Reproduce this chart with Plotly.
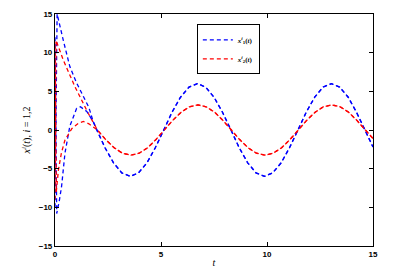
import plotly.graph_objects as go

# Early transient parts
t_blue1 = [0, 0.1, 0.4, 0.7, 1.0, 1.34, 1.6, 1.8]
y_blue1 = [-10, 15, 11.5, 8.2, 6.2, 4.3, 2.9, 1.1]
t_blue2 = [0, 0.08, 0.2, 0.31, 0.47, 0.7, 1.02, 1.2, 1.5, 1.8]
y_blue2 = [12, -10.8, -9.2, -7.3, -3.0, 0.5, 2.8, 3.0, 2.4, 1.1]
t_red1 = [0, 0.05, 0.39, 0.94, 1.57, 1.8]
y_red1 = [-9, 11.6, 9.05, 5.6, 2.15, 1.0]
t_red2 = [0, 0.06, 0.16, 0.3, 0.47, 0.8, 1.1, 1.34, 1.6, 1.8]
y_red2 = [11, -8, -5.2, -3.0, -1.3, 0.2, 0.85, 1.1, 0.8, 0.4]

# Shared steady-state tails
t_blue_tail = [1.97, 2.36, 2.76, 3.15, 3.55, 3.94, 4.34, 4.73, 5.13, 5.52, 5.92, 6.32,
               6.72, 7.11, 7.5, 7.9, 8.3, 8.69, 9.09, 9.48, 9.88, 10.27, 10.67, 11.06,
               11.46, 11.85, 12.25, 12.64, 13.04, 13.43, 13.83, 14.22, 14.62, 15.0]
y_blue_tail = [0, -2.3, -4.24, -5.54, -6, -5.54, -4.24, -2.3, 0, 2.3, 4.24, 5.54,
               6, 5.54, 4.24, 2.3, 0, -2.3, -4.24, -5.54, -6, -5.54, -4.24, -2.3,
               0, 2.3, 4.24, 5.54, 6, 5.54, 4.24, 2.3, 0, -2.2]
t_red_tail = [2.0, 2.39, 2.79, 3.18, 3.58, 3.97, 4.37, 4.76, 5.16, 5.55, 5.95, 6.34,
              6.74, 7.13, 7.53, 7.92, 8.32, 8.71, 9.11, 9.5, 9.9, 10.29, 10.69, 11.08,
              11.48, 11.87, 12.27, 12.66, 13.06, 13.45, 13.85, 14.24, 14.64, 15.0]
y_red_tail = [0, -1.24, -2.3, -3.0, -3.25, -3.0, -2.3, -1.24, 0, 1.24, 2.3, 3.0,
              3.25, 3.0, 2.3, 1.24, 0, -1.24, -2.3, -3.0, -3.25, -3.0, -2.3, -1.24,
              0, 1.24, 2.3, 3.0, 3.25, 3.0, 2.3, 1.24, 0, -1.1]

x_ticks = [0, 5, 10, 15]
y_ticks = [-15, -10, -5, 0, 5, 10, 15]

legend_names = ["<i>x</i><sup><i>i</i></sup><sub>1</sub>(<i>t</i>)",
                "<i>x</i><sup><i>i</i></sup><sub>2</sub>(<i>t</i>)"]

BLUE = "#0000ff"
RED = "#ff0000"
DASH = "4px,3px"

fig = go.Figure()
fig.add_trace(go.Scatter(x=t_blue1 + t_blue_tail, y=y_blue1 + y_blue_tail, mode="lines",
                         line=dict(color=BLUE, width=1.3, dash=DASH), name=legend_names[0]))
fig.add_trace(go.Scatter(x=t_red1 + t_red_tail, y=y_red1 + y_red_tail, mode="lines",
                         line=dict(color=RED, width=1.3, dash=DASH), name=legend_names[1]))
fig.add_trace(go.Scatter(x=t_blue2 + t_blue_tail, y=y_blue2 + y_blue_tail, mode="lines",
                         line=dict(color=BLUE, width=1.3, dash=DASH), showlegend=False))
fig.add_trace(go.Scatter(x=t_red2 + t_red_tail, y=y_red2 + y_red_tail, mode="lines",
                         line=dict(color=RED, width=1.3, dash=DASH), showlegend=False))

axis_common = dict(showgrid=False, zeroline=False, showline=True, linecolor="black",
                   linewidth=1.2, mirror="ticks", ticks="inside", ticklen=4,
                   tickcolor="black", automargin=False,
                   tickfont=dict(family="Liberation Sans", size=8, color="black", weight="bold"))

fig.update_layout(
    width=417, height=272,
    margin=dict(l=55, r=44, t=14, b=26),
    paper_bgcolor="white", plot_bgcolor="white",
    xaxis=dict(range=[0, 15], tickvals=x_ticks, **axis_common,
               title=dict(text="<i>t</i>", font=dict(family="Liberation Serif", size=10, color="black"),
                          standoff=1)),
    yaxis=dict(range=[-15, 15], tickvals=y_ticks, **axis_common,
               title=dict(text="<i>x<sup>i</sup></i>(<i>t</i>), <i>i</i> = 1,2",
                          font=dict(family="Liberation Serif", size=10, color="black"),
                          standoff=6)),
    legend=dict(x=0.446, y=0.955, xanchor="left", yanchor="top",
                bordercolor="black", borderwidth=1, bgcolor="white",
                font=dict(family="Liberation Serif", size=7, color="black", weight="bold"),
                itemwidth=30, tracegroupgap=0),
    showlegend=True,
)

fig.write_html("out.html", config={"displayModeBar": False},
               post_script="document.body.style.margin='0';document.body.style.padding='0';")
